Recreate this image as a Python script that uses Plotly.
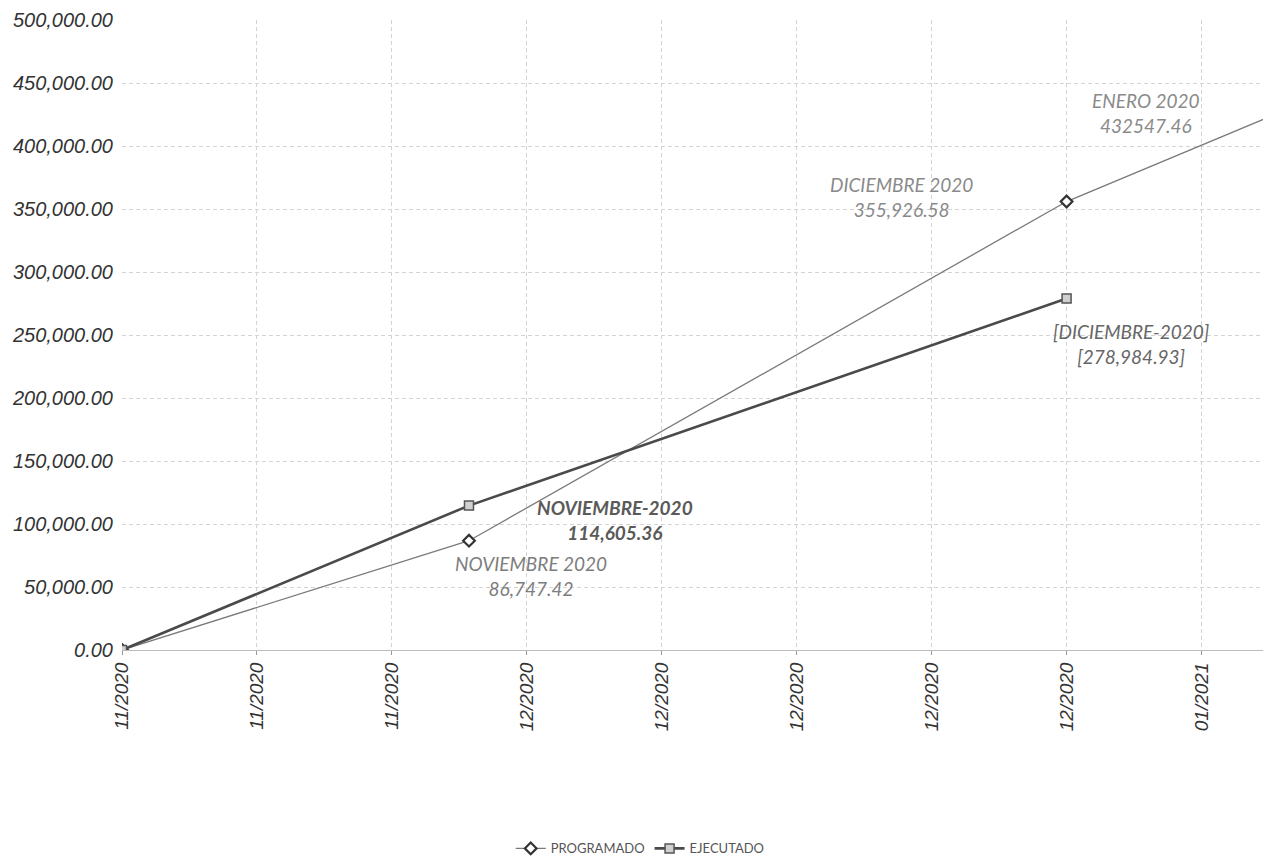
import plotly.graph_objects as go

# chart data
prog_dates = ["2020-11-12", "2020-11-30", "2020-12-31", "2021-01-12"]
prog_vals = [0.0, 86747.42, 355926.58, 432547.46]
prog_labels = ["", "NOVIEMBRE 2020", "DICIEMBRE 2020", "ENERO 2020"]

ejec_dates = ["2020-11-12", "2020-11-30", "2020-12-31"]
ejec_vals = [0.0, 114605.36, 278984.93]
ejec_labels = ["", "NOVIEMBRE-2020", "[DICIEMBRE-2020]"]

x_range = ["2020-11-12", "2021-01-10 14:30"]
y_range = [0, 500000]

fig = go.Figure()

fig.add_trace(go.Scatter(
    x=prog_dates, y=prog_vals, name="PROGRAMADO", mode="lines+markers",
    line=dict(color="#7a7a7a", width=1.3),
    marker=dict(symbol="diamond", size=9, color="white", line=dict(color="#333333", width=2.2)),
))
fig.add_trace(go.Scatter(
    x=ejec_dates, y=ejec_vals, name="EJECUTADO", mode="lines+markers",
    line=dict(color="#4a4a4a", width=2.6),
    marker=dict(symbol="square", size=9, color="#d0d0d0", line=dict(color="#555555", width=1.5)),
))

lab_font = dict(family="Lato, Open Sans, sans-serif", size=19, style="italic")

# data labels, placed in paper coords like the original
fig.add_annotation(x=0.288, y=0.0756, xref="paper", yref="paper", showarrow=False,
                   text=f"{prog_labels[1]}<br>{prog_vals[1]:,.2f}", font=dict(lab_font, color="#7d7d7d"))
fig.add_annotation(x=0.742, y=0.761, xref="paper", yref="paper", showarrow=False,
                   text=f"{prog_labels[2]}<br>{prog_vals[2]:,.2f}", font=dict(lab_font, color="#8a8a8a"))
fig.add_annotation(x=0.940, y=0.894, xref="paper", yref="paper", showarrow=False,
                   text=f"{prog_labels[3]}<br>{prog_vals[3]:.2f}", font=dict(lab_font, color="#8a8a8a"))
fig.add_annotation(x=0.429, y=0.165, xref="paper", yref="paper", showarrow=False,
                   text=f"{ejec_labels[1]}<br>{ejec_vals[1]:,.2f}", font=dict(lab_font, color="#5a5a5a", weight="bold"))
fig.add_annotation(x=0.948, y=0.485, xref="paper", yref="paper", showarrow=False,
                   text=f"{ejec_labels[2]}<br>[{ejec_vals[2]:,.2f}]", font=dict(lab_font, color="#666666"))

fig.update_layout(
    width=1263, height=856,
    margin=dict(l=114, r=0, t=12, b=209),
    paper_bgcolor="white", plot_bgcolor="white",
    showlegend=True,
    legend=dict(orientation="h", x=0.451, xanchor="center", y=-0.315, yanchor="middle",
                font=dict(family="Lato, sans-serif", size=13, color="#555555")),
)
fig.update_xaxes(
    type="date", range=x_range, tick0="2020-11-12", dtick=7 * 24 * 3600 * 1000,
    tickformat="%m/%Y", tickangle=-90, ticks="outside", ticklen=4, tickcolor="#999",
    tickfont=dict(family="Liberation Sans, Arial", size=19, color="#333333", style="italic"),
    showgrid=True, gridcolor="#d3d3d3", griddash="4px,3px", gridwidth=1,
    showline=True, linecolor="#bbbbbb", zeroline=False,
)
fig.update_yaxes(
    range=y_range, dtick=50000, tickformat=",.2f",
    tickfont=dict(family="Liberation Sans, Arial", size=20, color="#333333", style="italic"),
    showgrid=True, gridcolor="#d3d3d3", griddash="4px,3px", gridwidth=1,
    zeroline=False, showline=False, ticklabelstandoff=8,
)

fig.write_html("out.html")
